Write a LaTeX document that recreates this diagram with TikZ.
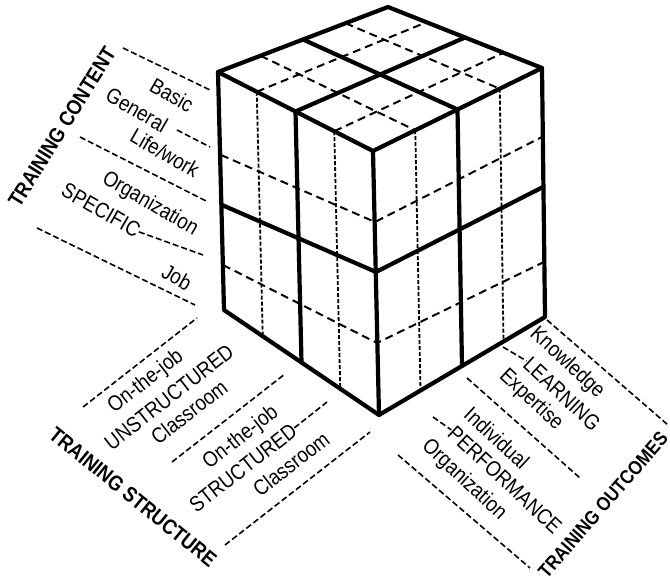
\documentclass[tikz,border=0pt]{standalone}
\usepackage{fontspec}
\setmainfont{Liberation Sans}[FakeStretch=0.87]
\usetikzlibrary{calc}

\begin{document}
\begin{tikzpicture}[
  x=0.5pt, y=-0.5pt,
  edge/.style={line width=2.1pt, line join=round, line cap=round},
  grid/.style={line width=1pt, dash pattern=on 4pt off 2.5pt},
  vgrid/.style={line width=0.9pt, dash pattern=on 2pt off 1pt},
  rule/.style={line width=0.8pt, dash pattern=on 3pt off 1.5pt},
  lbl/.style={font=\fontsize{10.8}{12}\selectfont, inner sep=0pt},
  axis/.style={font=\fontsize{10.6}{12}\selectfont\bfseries, inner sep=0pt},
]
  \useasboundingbox (0,0) rectangle (670,581);

  % -- Cube corners and the level points on its three vertical edges --
  \coordinate (B) at (388,7);
  \foreach \i/\lx/\ly/\fx/\fy/\rx/\ry in {0/218/72/373/151/542/68,
      1/221/155/375/222/542/137, 2/222/205/376/272/543/187,
      3/223/265/377/343/544/262, 4/224/310/379/415/545/317} {
    \coordinate (L\i) at (\lx,\ly);
    \coordinate (F\i) at (\fx,\fy);
    \coordinate (R\i) at (\rx,\ry);
  }

  % -- Dashed grid --
  \foreach \t in {0.25,0.75} {
    \draw[vgrid] ($(L0)!\t!(F0)$) -- ($(L4)!\t!(F4)$);
    \draw[vgrid] ($(F0)!\t!(R0)$) -- ($(F4)!\t!(R4)$);
    \draw[grid] ($(L0)!\t!(F0)$) -- ($(B)!\t!(R0)$);
    \draw[grid] ($(L0)!\t!(B)$) -- ($(F0)!\t!(R0)$);
  }
  \draw[grid] (L1) -- (F1) -- (R1);
  \draw[grid] (L3) -- (F3) -- (R3);

  % -- Solid edges and halves --
  \draw[edge] (L0) -- (B) -- (R0) -- (R4) -- (F4) -- (L4) -- cycle;
  \draw[edge] (L0) -- (F0) -- (R0);
  \draw[edge] (F0) -- (F4);
  \draw[edge] (L2) -- (F2) -- (R2);
  \draw[edge] ($(L0)!0.5!(F0)$) -- ($(L4)!0.5!(F4)$);
  \draw[edge] ($(F0)!0.5!(R0)$) -- ($(F4)!0.5!(R4)$);
  \draw[edge] ($(L0)!0.5!(F0)$) -- ($(B)!0.5!(R0)$);
  \draw[edge] ($(L0)!0.5!(B)$) -- ($(F0)!0.5!(R0)$);

  % -- Training content --
  \node[axis, rotate=58] (content) at (62,127) {TRAINING CONTENT};
  \node[lbl, rotate=-30] (basic) at (172,95) {Basic};
  \node[lbl, rotate=-30] (general) at (137,110) {General};
  \node[lbl, rotate=-30] (lifework) at (165,153) {Life/work};
  \node[lbl, rotate=-30] (orgc) at (150,204) {Organization};
  \node[lbl, rotate=-30] (specific) at (101,210) {SPECIFIC};
  \node[lbl, rotate=-30] (job) at (177,277) {Job};
  \draw[rule] (123,48) -- (210,90);
  \draw[rule] (177,130) -- (210,147);
  \draw[rule] (80,137) -- (208,202);
  \draw[rule] (specific.east) -- (203,255);
  \draw[rule] (37,228) -- (195,305);

  % -- Training structure --
  \node[axis, rotate=-39] (structure) at (133,497) {TRAINING STRUCTURE};
  \node[lbl, rotate=38] (ojtu) at (146,382) {On-the-job};
  \node[lbl, rotate=38] (unstr) at (169,397) {UNSTRUCTURED};
  \node[lbl, rotate=38] (clsu) at (189,412) {Classroom};
  \node[lbl, rotate=38] (ojts) at (241,438) {On-the-job};
  \node[lbl, rotate=38] (str) at (243,468) {STRUCTURED};
  \node[lbl, rotate=38] (clss) at (291,464) {Classroom};
  \draw[rule] (83,407) -- (197,318);
  \draw[rule] (172,462) -- (285,374);
  \draw[rule] (str.east) -- (327,402);
  \draw[rule] (225,545) -- (370,432);

  % -- Training outcomes --
  \node[axis, rotate=49, font=\fontsize{9.8}{11}\selectfont\bfseries]
    (outcomes) at (603,505) {TRAINING OUTCOMES};
  \node[lbl, rotate=-43] (know) at (567,363) {Knowledge};
  \node[lbl, rotate=-43] (learning) at (562,394) {LEARNING};
  \node[lbl, rotate=-43] (expert) at (531,400) {Expertise};
  \node[lbl, rotate=-43] (indiv) at (497,438) {Individual};
  \node[lbl, rotate=-43] (perf) at (505,480) {PERFORMANCE};
  \node[lbl, rotate=-43] (orgo) at (464,480) {Organization};
  \draw[rule] (547,320) -- (668,425);
  \draw[rule] (503,347) -- (learning.west);
  \draw[rule] (467,378) -- (580,478);
  \draw[rule] (433,417) -- (perf.west);
  \draw[rule] (398,455) -- (530,568);
\end{tikzpicture}
\end{document}
